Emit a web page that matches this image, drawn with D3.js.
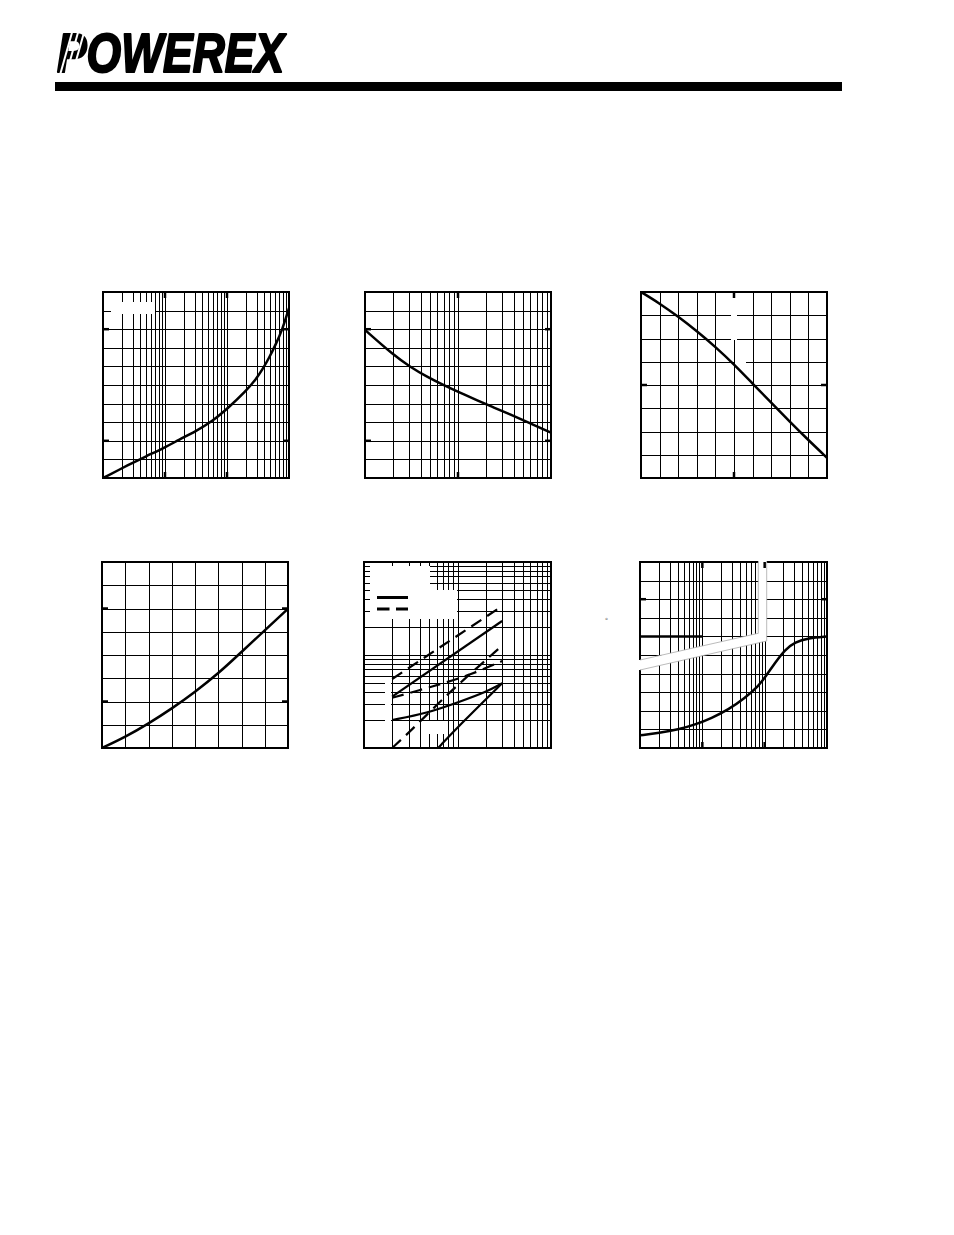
<!DOCTYPE html>
<html>
<head>
<meta charset="utf-8">
<script src="https://cdn.jsdelivr.net/npm/d3@7"></script>
<style>
  html, body { margin: 0; padding: 0; background: #fff; }
  svg { display: block; }
</style>
</head>
<body>
<script>
// ---------------- DATA ----------------
// Panel 1 (top-left): log x (3 decades), linear y (10 divisions)
const c1Curve = [[1,0],[2.63,0.72],[4.88,1.16],[10.1,1.65],[16.8,2.06],[31.2,2.51],[58,3.05],[104,3.76],[200,4.66],[290,5.29],[371,5.82],[476,6.45],[609,7.17],[780,7.97],[1000,9.14]];
// Panel 2 (top-middle): log x (2 decades), linear y (10 divisions)
const c2Curve = [[1,7.96],[2.02,6.61],[3.05,5.98],[4.6,5.45],[6.96,5.0],[10.5,4.59],[15.9,4.19],[24,3.8],[36.3,3.42],[55,3.02],[100,2.44]];
// Panel 3 (top-right): linear x (10 div), linear y (8 div)
const c3Curve = [[0,8],[1,7.51],[2,6.94],[3,6.32],[4,5.64],[5,4.89],[6,4.06],[7,3.24],[8,2.42],[9,1.63],[10,0.87]];
// Panel 4 (bottom-left): linear x (8 div), linear y (8 div)
const c4Curve = [[0,0],[1,0.47],[2,1.05],[3,1.69],[4,2.41],[5,3.2],[6,4.13],[7,5.06],[8,5.99]];
// Panel 5 (bottom-middle): log-log, 2 decades each
const c5SolidA = [[2,3.56],[30,23.2]];
const c5DashA  = [[2,5.52],[30,33.6]];
const c5DashB  = [[2,3.47],[3.97,4.2],[7.05,4.96],[13.6,6.1],[30,8.6]];
const c5DashC  = [[2,1.0],[3.1,1.5],[6.5,3.15],[10.6,5.0],[30,12.6]];
const c5SolidB = [[2,2.0],[4.68,2.36],[10.6,3.15],[20.5,4.03],[30,4.96]];
const c5SolidC = [[6.2,1.0],[10.6,1.77],[30,4.96]];
// Panel 6 (bottom-right): log x (3 decades), linear y (10 div)
const c6Curve = [[1,0.68],[2.04,0.81],[4.12,0.99],[7.6,1.25],[14.1,1.61],[26.1,2.06],[48.3,2.69],[79,3.32],[104,3.85],[146,4.57],[212,5.29],[307,5.70],[501,5.91],[1000,6.0]];
const c6Ref = [[1,6],[10,6]];
// Major tick positions (no labels in the reference)
const c1XMajor = [10,100], c1YMajor = [2,8];
const c2XMajor = [10],     c2YMajor = [2,8];
const c3XMajor = [5],      c3YMajor = [4];
const c4XMajor = [],       c4YMajor = [2,6];
const c6XMajor = [10,100], c6YMajor = [8];

// ---------------- DRAW ----------------
const svg = d3.select("body").append("svg").attr("width", 954).attr("height", 1235);

// Header
const logo = svg.append("g");
logo.append("text").attr("x", 57).attr("y", 72)
  .attr("font-family", "Liberation Sans, Arial, sans-serif")
  .attr("font-weight", "bold").attr("font-style", "italic")
  .attr("font-size", 56).attr("textLength", 227).attr("lengthAdjust", "spacingAndGlyphs")
  .attr("stroke", "#000").attr("stroke-width", 2.2).attr("stroke-linejoin", "round").attr("fill", "#000")
  .text("POWEREX");
[60, 66, 72].forEach(x => {
  logo.append("line").attr("x1", x).attr("y1", 75).attr("x2", x + 13).attr("y2", 29)
    .attr("stroke", "#fff").attr("stroke-width", 2);
});
svg.append("rect").attr("x", 55).attr("y", 82).attr("width", 787).attr("height", 9).attr("fill", "#000");

function logGrid(e0, e1) {
  const v = [];
  for (let e = e0; e < e1; e++) for (let m = 1; m < 10; m++) v.push(m * Math.pow(10, e));
  v.push(Math.pow(10, e1));
  return v;
}
function linGrid(a, b, step) { return d3.range(a, b + step / 2, step); }

function panel(p) {
  const g = svg.append("g");
  const [x0, x1] = p.x.range();
  const [y1, y0] = p.y.range();
  const w = x1 - x0, h = y1 - y0;
  // grid
  g.append("g").attr("transform", `translate(0,${y1})`)
    .call(d3.axisBottom(p.x).tickValues(p.xGrid).tickSize(-h).tickFormat(""))
    .call(s => s.select(".domain").remove())
    .selectAll("line").attr("stroke", "#000").attr("stroke-width", 1).attr("shape-rendering", "crispEdges");
  g.append("g").attr("transform", `translate(${x0},0)`)
    .call(d3.axisLeft(p.y).tickValues(p.yGrid).tickSize(-w).tickFormat(""))
    .call(s => s.select(".domain").remove())
    .selectAll("line").attr("stroke", "#000").attr("stroke-width", 1).attr("shape-rendering", "crispEdges");
  // frame
  g.append("rect").attr("x", x0).attr("y", y0).attr("width", w).attr("height", h)
    .attr("fill", "none").attr("stroke", "#000").attr("stroke-width", 2);
  // masks (erased label areas)
  (p.masks || []).forEach(m => g.append("rect").attr("x", m[0]).attr("y", m[1]).attr("width", m[2]).attr("height", m[3]).attr("fill", "#fff"));
  if (p.extra) p.extra(g, x0, x1, y0, y1);
  // major ticks
  (p.yMajor || []).forEach(v => {
    const yy = p.y(v);
    g.append("line").attr("x1", x0).attr("x2", x0 + 6).attr("y1", yy).attr("y2", yy).attr("stroke", "#000").attr("stroke-width", 2.5);
    g.append("line").attr("x1", x1 - 6).attr("x2", x1).attr("y1", yy).attr("y2", yy).attr("stroke", "#000").attr("stroke-width", 2.5);
  });
  (p.xMajor || []).forEach(v => {
    const xx = p.x(v);
    g.append("line").attr("x1", xx).attr("x2", xx).attr("y1", y0).attr("y2", y0 + 6).attr("stroke", "#000").attr("stroke-width", 2.5);
    g.append("line").attr("x1", xx).attr("x2", xx).attr("y1", y1 - 6).attr("y2", y1).attr("stroke", "#000").attr("stroke-width", 2.5);
  });
  // curves
  const clipId = "clip" + Math.round(x0) + "_" + Math.round(y0);
  svg.append("clipPath").attr("id", clipId).append("rect").attr("x", x0).attr("y", y0).attr("width", w).attr("height", h);
  const line = d3.line().x(d => p.x(d[0])).y(d => p.y(d[1])).curve(d3.curveBasis);
  (p.series || []).forEach(s => {
    g.append("path").datum(s.data).attr("d", line)
      .attr("fill", "none").attr("stroke", "#000").attr("stroke-width", s.width || 2.5)
      .attr("stroke-dasharray", s.dash || null).attr("stroke-linecap", "butt")
      .attr("clip-path", `url(#${clipId})`);
  });
  return g;
}

// Panel 1
panel({
  x: d3.scaleLog().domain([1, 1000]).range([103, 289]),
  y: d3.scaleLinear().domain([0, 10]).range([478, 292]),
  xGrid: logGrid(0, 3), yGrid: linGrid(0, 10, 1),
  xMajor: c1XMajor, yMajor: c1YMajor,
  masks: [[111, 302, 44, 12]],
  series: [{ data: c1Curve }]
});
// Panel 2
panel({
  x: d3.scaleLog().domain([1, 100]).range([365, 551]),
  y: d3.scaleLinear().domain([0, 10]).range([478, 292]),
  xGrid: logGrid(0, 2), yGrid: linGrid(0, 10, 1),
  xMajor: c2XMajor, yMajor: c2YMajor,
  series: [{ data: c2Curve }]
});
// Panel 3
panel({
  x: d3.scaleLinear().domain([0, 10]).range([641, 827]),
  y: d3.scaleLinear().domain([0, 8]).range([478, 292]),
  xGrid: linGrid(0, 10, 1), yGrid: linGrid(0, 8, 1),
  xMajor: c3XMajor, yMajor: c3YMajor,
  masks: [[731, 298, 6, 42], [735, 359, 11, 5]],
  series: [{ data: c3Curve }]
});
// Panel 4
panel({
  x: d3.scaleLinear().domain([0, 8]).range([102, 288]),
  y: d3.scaleLinear().domain([0, 8]).range([748, 562]),
  xGrid: linGrid(0, 8, 1), yGrid: linGrid(0, 8, 1),
  xMajor: c4XMajor, yMajor: c4YMajor,
  series: [{ data: c4Curve }]
});
// Panel 5
panel({
  x: d3.scaleLog().domain([1, 100]).range([364, 551]),
  y: d3.scaleLog().domain([1, 100]).range([748, 562]),
  xGrid: logGrid(0, 2), yGrid: logGrid(0, 2),
  masks: [[370, 566, 60, 25], [370, 590, 87, 29], [385, 679, 6, 42], [426, 721, 21, 13]],
  extra: (g) => {
    g.append("line").attr("x1", 377).attr("x2", 408).attr("y1", 597.5).attr("y2", 597.5).attr("stroke", "#000").attr("stroke-width", 3);
    g.append("line").attr("x1", 377).attr("x2", 408).attr("y1", 609).attr("y2", 609).attr("stroke", "#000").attr("stroke-width", 3).attr("stroke-dasharray", "12.5,6.5");
  },
  series: [
    { data: c5DashA, dash: "12,7", width: 2.2 },
    { data: c5SolidA, width: 2.2 },
    { data: c5DashB, dash: "12,7", width: 2.2 },
    { data: c5DashC, dash: "12,7", width: 2.2 },
    { data: c5SolidB, width: 2.2 },
    { data: c5SolidC, width: 2.2 }
  ]
});
// Panel 6
const x6 = d3.scaleLog().domain([1, 1000]).range([640, 827]);
const y6 = d3.scaleLinear().domain([0, 10]).range([748, 562]);
panel({
  x: x6, y: y6,
  xGrid: logGrid(0, 3), yGrid: linGrid(0, 10, 1),
  xMajor: c6XMajor, yMajor: c6YMajor,
  extra: (g) => {
    g.append("path").attr("d", "M758.3,560.5 L758.3,633.3 L640,660 L637,660 L637,670 L640,670 L766.7,641 L766.7,560.5 Z").attr("fill", "#fff");
    g.append("path").attr("d", "M758.3,562 L758.3,633.3 L640,660").attr("fill", "none").attr("stroke", "#aaa").attr("stroke-width", 0.8);
    g.append("path").attr("d", "M640,670 L766.7,641 L766.7,562").attr("fill", "none").attr("stroke", "#aaa").attr("stroke-width", 0.8);
    g.append("path").datum(c6Ref).attr("d", d3.line().x(d => x6(d[0])).y(d => y6(d[1])))
      .attr("stroke", "#000").attr("stroke-width", 2.5).attr("fill", "none");
  },
  series: [{ data: c6Curve }]
});
svg.append("text").attr("x", 606.5).attr("y", 623).attr("font-family", "DejaVu Sans, sans-serif")
  .attr("font-size", 7).attr("fill", "#777").attr("text-anchor", "middle").text("°");
</script>
</body>
</html>
